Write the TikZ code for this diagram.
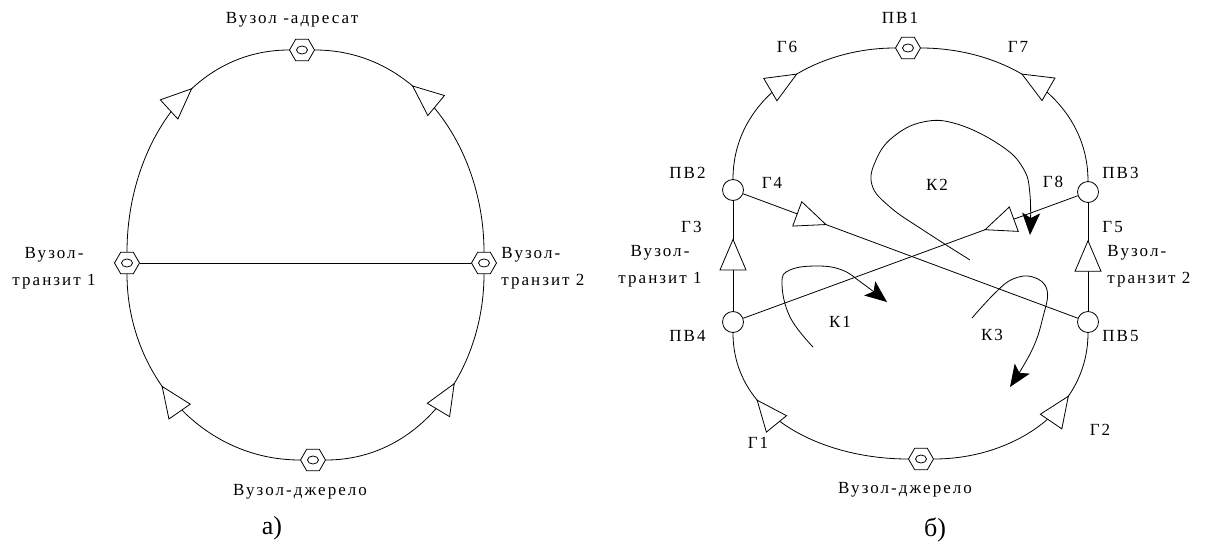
\documentclass[tikz,border=0pt]{standalone}
\usepackage{fontspec}
\setmainfont{Liberation Serif}
\newfontfamily\uafont[LetterSpace=12]{Liberation Serif}
\usetikzlibrary{arrows.meta, positioning, shapes.geometric, decorations.markings}

\tikzset{
  vuzol/.style={draw, regular polygon, regular polygon sides=6, minimum size=25pt,
                inner sep=0pt, fill=white,
                path picture={\draw (path picture bounding box.center) ellipse (5.5pt and 4pt);}},
  pv/.style={draw, circle, minimum size=21pt, inner sep=0pt, fill=white},
  lbl/.style={font=\fontsize{17}{27}\selectfont\uafont, inner sep=1pt},
  captxt/.style={font=\fontsize{26}{30}\selectfont, inner sep=1pt},
  dir/.style={postaction={decorate}, decoration={markings,
              mark=at position #1 with {\arrow{Triangle[fill=white, length=32pt, width=27pt]}}}},
  kont/.style={-{Stealth[length=22pt, width=18pt, inset=5pt]}},
}

\begin{document}
\begin{tikzpicture}[x=1pt, y=-1pt, line width=0.8pt]
    \useasboundingbox (0,0) rectangle (1207,549);

    % a) --- graph with transit nodes
    \node[vuzol] (adr) at (302, 50) {};
    \node[vuzol] (tr1) at (127, 263) {};
    \node[vuzol] (tr2) at (484, 263) {};
    \node[vuzol] (dzh) at (313, 460) {};

    \node[lbl] (adrlbl) at (292, 20) {Вузол -адресат};
    \node[lbl, align=center] (tr1lbl) at (54, 268) {Вузол-\\транзит 1};
    \node[lbl, align=left, anchor=west] (tr2lbl) at (500, 268) {Вузол-\\транзит 2};
    \node[lbl] (dzhlbl) at (300, 492) {Вузол-джерело};
    \node[captxt] (capa) at (272, 528) {а)};

    \draw (tr1) -- (tr2);
    \draw[dir=0.58] (dzh) to[out=180, in=-90] (tr1);
    \draw[dir=0.58] (dzh) to[out=0, in=-90] (tr2);
    \draw[dir=0.63] (tr1) to[out=90, in=180] (adr);
    \draw[dir=0.64] (tr2) to[out=90, in=0] (adr);

    % b) --- graph with PV nodes
    \node[vuzol] (pv1) at (908, 48) {};
    \node[pv] (pv2) at (733, 190) {};
    \node[pv] (pv3) at (1088, 192) {};
    \node[pv] (pv4) at (733, 322) {};
    \node[pv] (pv5) at (1088, 322) {};
    \node[vuzol] (dzhb) at (921, 459) {};

    \node[lbl] (pv1lbl) at (900, 18) {ПВ1};
    \node[lbl, anchor=east] (pv2lbl) at (707, 173) {ПВ2};
    \node[lbl, anchor=west] (pv3lbl) at (1101, 173) {ПВ3};
    \node[lbl, anchor=east] (pv4lbl) at (707, 336) {ПВ4};
    \node[lbl, anchor=west] (pv5lbl) at (1101, 336) {ПВ5};
    \node[lbl] (g6) at (787, 47) {Г6};
    \node[lbl] (g7) at (1018, 47) {Г7};
    \node[lbl] (g4) at (772, 183) {Г4};
    \node[lbl] (g8) at (1053, 182) {Г8};
    \node[lbl, anchor=east] (g3) at (703, 227) {Г3};
    \node[lbl, anchor=west] (g5) at (1101, 227) {Г5};
    \node[lbl] (g1) at (758, 443) {Г1};
    \node[lbl] (g2) at (1100, 430) {Г2};
    \node[lbl] (k1) at (840, 322) {К1};
    \node[lbl] (k2) at (937, 185) {К2};
    \node[lbl] (k3) at (992, 335) {К3};
    \node[lbl, align=center] (tr1blbl) at (660, 266) {Вузол-\\транзит 1};
    \node[lbl, align=left, anchor=west] (tr2blbl) at (1106, 266) {Вузол-\\транзит 2};
    \node[lbl] (dzhblbl) at (905, 490) {Вузол-джерело};
    \node[captxt] (capb) at (935, 530) {б)};

    \draw[dir=0.56] (pv2) to[out=90, in=180] (pv1);
    \draw[dir=0.56] (pv3) to[out=90, in=0] (pv1);
    \draw[dir=0.66] (pv4) -- (pv2);
    \draw[dir=0.66] (pv5) -- (pv3);
    \draw[dir=0.25] (pv2) -- (pv5);
    \draw[dir=0.28] (pv3) -- (pv4);
    \draw[dir=0.70] (dzhb) to[out=180, in=-90] (pv4);
    \draw[dir=0.70] (dzhb) to[out=0, in=-90] (pv5);

    % loops K1, K2, K3
    \coordinate (k1s) at (813, 347);
    \coordinate (k1e) at (887, 302);
    \coordinate (k2s) at (970, 260);
    \coordinate (k2e) at (1030, 235);
    \coordinate (k3s) at (972, 318);
    \coordinate (k3e) at (1010, 387);
    \draw[kont] plot[smooth, tension=0.7] coordinates {(k1s) (790, 317) (782, 283) (790, 270) (817, 266) (842, 270) (862, 283) (k1e)};
    \draw[kont] plot[smooth, tension=0.7] coordinates {(k2s) (923, 230) (890, 207) (872, 185) (876, 160) (893, 137) (923, 122) (957, 124) (1000, 145) (1023, 168) (1030, 195) (k2e)};
    \draw[kont] plot[smooth, tension=0.7] coordinates {(k3s) (995, 293) (1013, 279) (1033, 277) (1047, 290) (1043, 317) (1032, 350) (k3e)};
\end{tikzpicture}
\end{document}
